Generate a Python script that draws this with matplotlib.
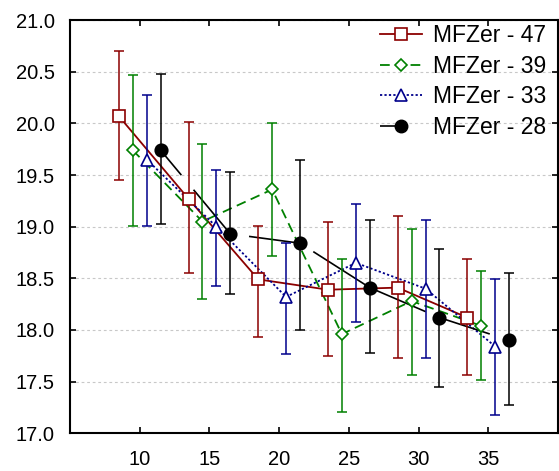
import numpy as np
import matplotlib.pyplot as plt
from matplotlib.lines import Line2D

plt.rcParams['font.family'] = ['Liberation Sans', 'DejaVu Sans']
plt.rcParams['lines.scale_dashes'] = False

# group positions and offsets of each series
groups = [10, 15, 20, 25, 30, 35]
labels = ['MFZer - 47', 'MFZer - 39', 'MFZer - 33', 'MFZer - 28']
offsets = [-1.5, -0.5, 0.5, 1.5]

mean_47 = [20.07, 19.27, 18.49, 18.39, 18.41, 18.12]
low_47 = [19.45, 18.55, 17.93, 17.75, 17.73, 17.56]
high_47 = [20.70, 20.01, 19.01, 19.05, 19.10, 18.69]

mean_39 = [19.74, 19.05, 19.36, 17.96, 18.28, 18.04]
low_39 = [19.01, 18.30, 18.72, 17.21, 17.56, 17.52]
high_39 = [20.47, 19.80, 20.00, 18.69, 18.98, 18.57]

mean_33 = [19.65, 19.00, 18.32, 18.65, 18.40, 17.84]
low_33 = [19.01, 18.43, 17.77, 18.08, 17.73, 17.18]
high_33 = [20.27, 19.55, 18.84, 19.22, 19.06, 18.49]

mean_28 = [19.74, 18.93, 18.84, 18.41, 18.12, 17.90]
low_28 = [19.03, 18.35, 18.00, 17.78, 17.45, 17.27]
high_28 = [20.48, 19.53, 19.65, 19.06, 18.78, 18.55]

means = [mean_47, mean_39, mean_33, mean_28]
lows = [low_47, low_39, low_33, low_28]
highs = [high_47, high_39, high_33, high_28]

colors = ['#8b0000', '#008000', '#00008b', '#000000']
markers = ['s', 'D', '^', 'o']
msizes = [8, 6.5, 8, 9]
styles = ['-', (0, (7, 4)), (0, (1.6, 1.6)), '-']

# visible pieces of the broken black connecting line (fractions of each span)
black_pieces = [[(0, 0.29), (0.48, 1)], [(0.28, 1)], [(0.2, 1)], [(0, 0.79)], [(0, 0.71)]]

fig = plt.figure(figsize=(5.59, 4.71), dpi=100)
ax = fig.add_axes([0.1252, 0.080, 0.873, 0.8775])

handles = []
for i in range(4):
    x = np.array(groups) + offsets[i]
    y = np.array(means[i])
    err = [y - np.array(lows[i]), np.array(highs[i]) - y]
    fill = 'black' if i == 3 else 'white'
    if i < 3:
        ax.plot(x, y, color=colors[i], linestyle=styles[i], lw=1.3, zorder=2)
    else:
        for k, pieces in enumerate(black_pieces):
            for a, b in pieces:
                xs = [x[k] + a * (x[k + 1] - x[k]), x[k] + b * (x[k + 1] - x[k])]
                ys = [y[k] + a * (y[k + 1] - y[k]), y[k] + b * (y[k + 1] - y[k])]
                ax.plot(xs, ys, color='black', lw=1.2, zorder=2)
    ax.errorbar(x, y, yerr=err, fmt='none', ecolor=colors[i], elinewidth=1.1,
                capsize=3.5, capthick=1.1, zorder=3)
    ax.plot(x, y, linestyle='none', marker=markers[i], markersize=msizes[i],
            markerfacecolor=fill, markeredgecolor=colors[i], markeredgewidth=1.2, zorder=4)
    if i < 3:
        h = Line2D([], [], color=colors[i], linestyle=styles[i], lw=1.3, marker=markers[i],
                   markersize=msizes[i], markerfacecolor=fill, markeredgecolor=colors[i],
                   markeredgewidth=1.2)
    else:
        h = Line2D([], [], color='black', linestyle=(0, (14, 40)), lw=1.2, marker='o',
                   markersize=msizes[i], markerfacecolor='black', markeredgecolor='black')
    handles.append(h)

ax.set_xlim(5, 40)
ax.set_ylim(17, 21)
ax.set_xticks(groups)
ax.set_yticks(np.arange(17, 21.01, 0.5))
ax.set_yticklabels(['%.1f' % v for v in np.arange(17, 21.01, 0.5)])
ax.yaxis.grid(True, linestyle=(0, (2, 2)), color='#c8c8c8', lw=0.8)
ax.set_axisbelow(True)
ax.tick_params(direction='in', top=True, right=True, length=4, width=1.2, labelsize=14.5)
ax.tick_params(axis='y', pad=11)
ax.tick_params(axis='x', pad=12)
for s in ax.spines.values():
    s.set_linewidth(1.5)

ax.legend(handles, labels, loc='upper right', frameon=False, fontsize=16.5,
          handlelength=1.8, handletextpad=0.5, labelspacing=0.33,
          borderaxespad=0.0, bbox_to_anchor=(0.995, 1.012))

fig.savefig('out.png', dpi=100)
